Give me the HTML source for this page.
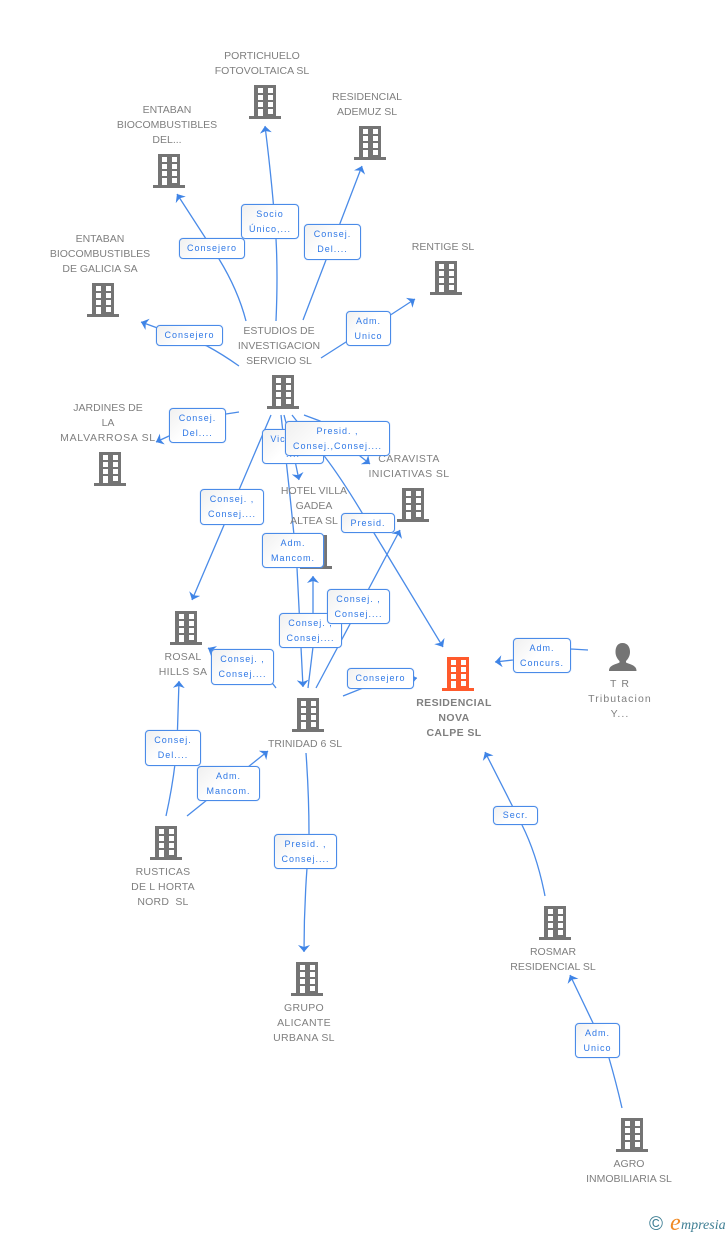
<!DOCTYPE html>
<html><head><meta charset="utf-8"><style>
html,body{margin:0;padding:0;background:#fff}
#c{position:relative;width:728px;height:1235px;overflow:hidden;background:#fff;font-family:"Liberation Sans",sans-serif}
svg{position:absolute;left:0;top:0}
.t{position:absolute;width:130px;text-align:center;font-size:10.5px;line-height:15px;color:#7f7f7f;white-space:nowrap}
.b{position:absolute;box-sizing:border-box;border:1.5px solid #4a8be8;border-radius:4px;box-shadow:0 0 1px #8ab4f0;background:linear-gradient(135deg,#f0f0f0,#fff 45%);color:#2f78e6;font-size:9px;letter-spacing:1px;line-height:15px;text-align:center;white-space:nowrap;display:flex;align-items:center;justify-content:center}
</style></head><body><div id="c">
<svg width="728" height="1235" viewBox="0 0 728 1235">
<defs>
<g id="h"><path fill-rule="evenodd" shape-rendering="crispEdges" d="M-11 0H11V31H16V34H-16V31H-11ZM-7 3V8H-2V3ZM3 3V8H8V3ZM-7 10V15H-2V10ZM3 10V15H8V10ZM-7 17V22H-2V17ZM3 17V22H8V17ZM-7 24V31H-2V24ZM3 24V29H8V24Z"/></g>
<marker id="a" markerWidth="9" markerHeight="13" refX="7" refY="6" orient="auto" markerUnits="userSpaceOnUse"><path d="M0 0L7 6L0 12L2 6Z" fill="#3f84e6"/></marker>
</defs>
<g fill="none" stroke="#4a8be8" stroke-width="1.3">
<path marker-end="url(#a)" d="M276 321Q278 275 276 239Q273 190 265 126"/>
<path marker-end="url(#a)" d="M246 321Q238 290 219 259L177 194"/>
<path marker-end="url(#a)" d="M303 320L362 166"/>
<path marker-end="url(#a)" d="M321 358L346 342L392 314L415 299"/>
<path marker-end="url(#a)" d="M239 366Q222 354 207 346L141 322"/>
<path marker-end="url(#a)" d="M239 412L226 414L169 436L156 442"/>
<path marker-end="url(#a)" d="M271 415L192 600"/>
<path marker-end="url(#a)" d="M284 415Q292 445 299 480"/>
<path marker-end="url(#a)" d="M304 415L320 421L360 456L370 464"/>
<path marker-end="url(#a)" d="M292 415L325 457Q345 483 374 533L443 647"/>
<path marker-end="url(#a)" d="M281 415Q293 520 297 568L303 687"/>
<path marker-end="url(#a)" d="M308 688L313 647L313 576"/>
<path marker-end="url(#a)" d="M316 688L400 530"/>
<path marker-end="url(#a)" d="M276 688L273 684L208 648"/>
<path marker-end="url(#a)" d="M343 696L363 688L417 678"/>
<path marker-end="url(#a)" d="M588 650L571 649L513 660L495 662"/>
<path marker-end="url(#a)" d="M166 816Q174 780 177 745L179 681"/>
<path marker-end="url(#a)" d="M187 816L268 751"/>
<path marker-end="url(#a)" d="M306 753Q309 795 309 834L307 868Q304 910 304 952"/>
<path marker-end="url(#a)" d="M545 896Q537 855 522 825L485 752"/>
<path marker-end="url(#a)" d="M622 1108Q616 1082 609 1058Q600 1038 593 1023L570 975"/>
</g>
<g fill="#747474">
<use href="#h" x="265" y="85"/><use href="#h" x="370" y="126"/><use href="#h" x="169" y="154"/><use href="#h" x="446" y="261"/><use href="#h" x="103" y="283"/><use href="#h" x="283" y="375"/><use href="#h" x="110" y="452"/><use href="#h" x="413" y="488"/><use href="#h" x="316" y="535"/><use href="#h" x="186" y="611"/><use href="#h" x="308" y="698"/><use href="#h" x="166" y="826"/><use href="#h" x="307" y="962"/><use href="#h" x="555" y="906"/><use href="#h" x="632" y="1118"/>
<use href="#h" x="458" y="657" fill="#ff5a2c"/>
<path d="M622.500 643c5 0 7.500 4 7.500 9c0 4-2 7-4 9v1.500c4 2 10.500 2.500 10.500 8.500H609c0-6 6.500-6.500 10.500-8.500V661c-2-2-4-5-4-9c0-5 2-9 7-9z"/>
</g>
<text x="649" y="1230" font-family="Liberation Sans,sans-serif" font-size="19" fill="#3f7f94">©</text>
<text x="670" y="1230" font-family="Liberation Serif,serif" font-style="italic" font-size="24" fill="#f08a24">e</text>
<text x="681" y="1229" font-family="Liberation Serif,serif" font-style="italic" font-size="14" fill="#3f7f94">mpresia</text>
</svg>
<div class="t" style="left:197px;top:49px">PORTICHUELO<br>FOTOVOLTAICA SL</div>
<div class="t" style="left:302px;top:90px">RESIDENCIAL<br>ADEMUZ SL</div>
<div class="t" style="left:102px;top:103px">ENTABAN<br>BIOCOMBUSTIBLES<br>DEL...</div>
<div class="t" style="left:378px;top:240px">RENTIGE SL</div>
<div class="t" style="left:35px;top:232px">ENTABAN<br>BIOCOMBUSTIBLES<br>DE GALICIA SA</div>
<div class="t" style="left:214px;top:324px">ESTUDIOS DE<br>INVESTIGACION<br>SERVICIO SL</div>
<div class="t" style="left:43px;top:401px">JARDINES DE<br>LA<br><span style="letter-spacing:.7px">MALVARROSA SL</span></div>
<div class="t" style="left:344px;top:452px;letter-spacing:.4px">CARAVISTA<br>INICIATIVAS SL</div>
<div class="t" style="left:249px;top:484px">HOTEL VILLA<br>GADEA<br>ALTEA SL</div>
<div class="t" style="left:118px;top:650px;letter-spacing:.3px">ROSAL<br>HILLS SA</div>
<div class="t" style="left:240px;top:737px">TRINIDAD 6 SL</div>
<div class="t" style="left:389px;top:696px;font-weight:bold;letter-spacing:.4px">RESIDENCIAL<br>NOVA<br>CALPE SL</div>
<div class="t" style="left:555px;top:677px;letter-spacing:1.100px">T R<br>Tributacion<br>Y...</div>
<div class="t" style="left:98px;top:865px;letter-spacing:.2px">RUSTICAS<br>DE L HORTA<br>NORD &nbsp;SL</div>
<div class="t" style="left:239px;top:1001px;letter-spacing:.3px">GRUPO<br>ALICANTE<br>URBANA SL</div>
<div class="t" style="left:488px;top:945px">ROSMAR<br>RESIDENCIAL SL</div>
<div class="t" style="left:564px;top:1157px">AGRO<br>INMOBILIARIA SL</div>

<div class="b" style="left:241px;top:204px;width:58px;height:35px">Socio<br>Único,...</div>
<div class="b" style="left:179px;top:238px;width:66px;height:21px">Consejero</div>
<div class="b" style="left:304px;top:224px;width:57px;height:36px">Consej.<br>Del....</div>
<div class="b" style="left:346px;top:311px;width:45px;height:35px">Adm.<br>Unico</div>
<div class="b" style="left:156px;top:325px;width:67px;height:21px">Consejero</div>
<div class="b" style="left:169px;top:408px;width:57px;height:35px">Consej.<br>Del....</div>
<div class="b" style="left:262px;top:429px;width:62px;height:35px">Vicesecr.<br>....</div>
<div class="b" style="left:285px;top:421px;width:105px;height:35px">Presid. ,<br>Consej.,Consej....</div>
<div class="b" style="left:200px;top:489px;width:64px;height:36px">Consej. ,<br>Consej....</div>
<div class="b" style="left:341px;top:513px;width:54px;height:20px">Presid.</div>
<div class="b" style="left:262px;top:533px;width:62px;height:35px">Adm.<br>Mancom.</div>
<div class="b" style="left:279px;top:613px;width:63px;height:35px">Consej. ,<br>Consej....</div>
<div class="b" style="left:327px;top:589px;width:63px;height:35px">Consej. ,<br>Consej....</div>
<div class="b" style="left:211px;top:649px;width:63px;height:36px">Consej. ,<br>Consej....</div>
<div class="b" style="left:347px;top:668px;width:67px;height:21px">Consejero</div>
<div class="b" style="left:513px;top:638px;width:58px;height:35px">Adm.<br>Concurs.</div>
<div class="b" style="left:145px;top:730px;width:56px;height:36px">Consej.<br>Del....</div>
<div class="b" style="left:197px;top:766px;width:63px;height:35px">Adm.<br>Mancom.</div>
<div class="b" style="left:274px;top:834px;width:63px;height:35px">Presid. ,<br>Consej....</div>
<div class="b" style="left:493px;top:806px;width:45px;height:19px">Secr.</div>
<div class="b" style="left:575px;top:1023px;width:45px;height:35px">Adm.<br>Unico</div>
</div></body></html>
